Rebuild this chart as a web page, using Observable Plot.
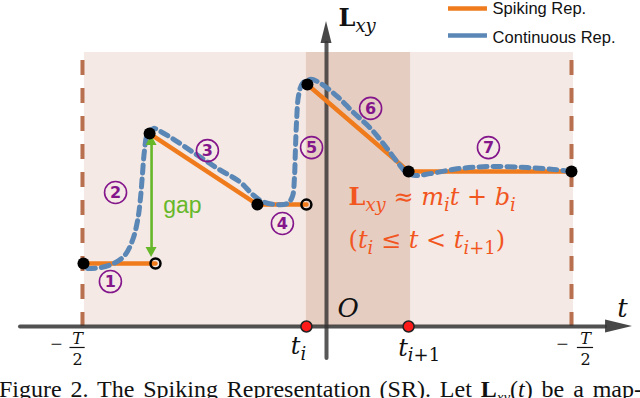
<!DOCTYPE html>
<html><head><meta charset="utf-8">
<script src="https://cdn.jsdelivr.net/npm/d3@7"></script>
<script src="https://cdn.jsdelivr.net/npm/@observablehq/plot@0.6"></script>
<style>
body{margin:0;background:#fff;width:640px;height:398px;overflow:hidden;position:relative;}
#chart svg{display:block;}
#cap{position:absolute;left:-1px;top:377px;width:643px;font-family:"Liberation Serif",serif;font-size:24px;line-height:24px;text-align:justify;text-align-last:justify;color:#111;white-space:nowrap;}
#cap .sub{font-size:15px;font-style:italic;position:relative;top:5px;}
</style></head>
<body>
<div id="chart"></div>
<div id="cap">Figure 2. The Spiking Representation (SR). Let <b>L</b><span class="sub">xy</span>(<i>t</i>) be a map-</div>
<script>
// ---------- data (t: time units with T/2 = 10, L: value units) ----------
const boundsT = [-9.96, 10.0];            // -T/2 and the right boundary
const regionT = [-9.88, 10.08];
const regionTop = 10;
const bandT = [-0.82, 3.43];              // t_i .. t_{i+1}

// Spiking representation (piecewise linear segments)
const spikeSeg = [1, 1, 3, 3, 4, 4, 6, 6, 7, 7];
const spikeT   = [-9.92, -6.98, -7.22, -2.82, -2.82, -0.82, -0.78, 3.35, 3.35, 10.0];
const spikeL   = [2.30, 2.30, 7.04, 4.45, 4.45, 4.45, 8.83, 5.66, 5.66, 5.66];

// spike knots (filled) and open ends
const knotT = [-9.92, -7.22, -2.82, -0.78, 3.35, 10.0];
const knotL = [2.30, 7.04, 4.45, 8.83, 5.66, 5.66];
const openT = [-6.98, -0.82];
const openL = [2.30, 4.45];

// Continuous representation
const contT = [-9.76,-9.22,-8.69,-8.24,-7.92,-7.71,-7.59,-7.51,-7.43,-7.31,-7.06,-6.78,-6.24,-5.43,-4.45,-3.51,-3.02,-2.61,-2.08,-1.59,-1.39,-1.31,-1.27,-1.22,-1.14,-0.98,-0.65,-0.24,0.45,1.10,1.80,2.41,2.90,3.27,3.63,4.24,5.47,6.82,8.20,9.27,9.96];
const contL = [2.12,2.15,2.30,2.59,3.14,3.87,4.71,5.58,6.42,7.01,7.23,7.12,6.83,6.35,5.77,5.26,4.82,4.56,4.45,4.49,4.75,5.40,6.42,7.52,8.43,8.87,9.02,8.87,8.39,7.81,7.23,6.57,5.99,5.62,5.51,5.58,5.77,5.84,5.80,5.73,5.66];

// spike times on the t axis
const spikeTimes = [-0.82, 3.35];

// segment numbers
const segNums = ["1", "2", "3", "4", "5", "6", "7"];
const segNumT = [-8.82, -8.61, -4.86, -1.80, -0.61, 1.80, 6.61];
const segNumL = [1.64, 4.89, 6.42, 3.76, 6.53, 7.96, 6.53];

// gap arrow
const gapT = -7.14, gapTop = 6.97, gapBottom = 2.52;

// legend
const legendLabels = ["Spiking Rep.", "Continuous Rep."];

// ---------- colours / layout ----------
const ORANGE = "#ef7b1c", BLUE = "#5a87b5", BROWN = "#b8704f", AXIS = "#333333";
const PURPLE = "#84168c", GREEN = "#66b82a", RED_TXT = "#f2561f";
const SERIF = "DejaVu Serif", SANS = "Liberation Sans";

const spike = spikeT.map((t, i) => ({t, L: spikeL[i], seg: spikeSeg[i]}));
const cont = contT.map((t, i) => ({t, L: contL[i]}));
const knots = knotT.map((t, i) => ({t, L: knotL[i]}));
const opens = openT.map((t, i) => ({t, L: openL[i]}));
const nums = segNums.map((s, i) => ({s, t: segNumT[i], L: segNumL[i]}));

const hAxis = {x1: -12.49, x2: 11.39};
const hHead = [{t: 11.39, lo: -0.237, hi: 0.237}, {t: 12.49, lo: 0, hi: 0}];
const vAxis = {y1: -1.17, y2: 10.33};
const vHead = [{L: 10.33, lo: -0.224, hi: 0.224}, {L: 11.13, lo: 0, hi: 0}];
const gHeadTop = [{L: gapTop, lo: gapT, hi: gapT}, {L: gapTop - 0.36, lo: gapT - 0.224, hi: gapT + 0.224}];
const gHeadBot = [{L: gapBottom, lo: gapT, hi: gapT}, {L: gapBottom + 0.36, lo: gapT - 0.224, hi: gapT + 0.224}];

const legend = [
  {label: legendLabels[0], L: 11.61, Lt: 11.39, dash: null, color: ORANGE},
  {label: legendLabels[1], L: 10.62, Lt: 10.36, dash: "10,6", color: BLUE}
];

// math labels: "$" + pieces "code:text" separated by "|"
const mathLabels = [
  {s: "$B:L|si:xy", t: 0.49, L: 10.95, size: 24, anchor: "start", fill: "#111"},
  {s: "$i:t", t: 12.08, L: 0.33, size: 26, anchor: "middle", fill: "#111"},
  {s: "$i:O", t: 0.88, L: 0.33, size: 26, anchor: "middle", fill: "#111"},
  {s: "$i:t|si:i", t: -1.14, L: -1.02, size: 24, anchor: "middle", fill: "#111"},
  {s: "$i:t|si:i|sn:+1", t: 3.78, L: -1.06, size: 24, anchor: "middle", fill: "#111"},
  {s: "$B:L|si:xy|n: ≈ |i:m|si:i|i:t|n: + |i:b|si:i", t: 0.90, L: 4.42, size: 24, anchor: "start", fill: RED_TXT},
  {s: "$n:(|i:t|si:i|n: ≤ |i:t|n: < |i:t|si:i|sn:+1|n:)", t: 0.90, L: 2.85, size: 24, anchor: "start", fill: RED_TXT}
];
// -T/2 fraction labels
const fracs = [
  {minusT: -11.02, fracT: -10.16, w: 0.31},
  {minusT: 9.63, fracT: 10.57, w: 0.33}
];

const textMark = (d, o) => Plot.text(d, {x: "t", y: "L", text: "s", textAnchor: o.anchor, lineAnchor: "bottom", fontSize: o.size, fill: o.fill, fontFamily: SERIF});

const plot = Plot.plot({
  width: 640, height: 372, margin: 0,
  x: {domain: [-13.306, 12.816], axis: null},
  y: {domain: [-1.679, 11.898], axis: null},
  marks: [
    Plot.rect([0], {x1: regionT[0], x2: regionT[1], y1: 0, y2: regionTop, fill: "#f4e9e4"}),
    Plot.rect([0], {x1: bandT[0], x2: bandT[1], y1: 0, y2: regionTop, fill: "#e6cdc2"}),
    Plot.ruleX(boundsT, {x: d => d, y1: regionTop, y2: 0, stroke: BROWN, strokeWidth: 4, strokeDasharray: "15,13", strokeDashoffset: 20}),
    // axes
    Plot.ruleY([0], {x1: hAxis.x1, x2: hAxis.x2, stroke: AXIS, strokeWidth: 4, strokeOpacity: 0.85, strokeLinecap: "round"}),
    Plot.areaY(hHead, {x: "t", y1: "lo", y2: "hi", fill: AXIS, fillOpacity: 0.9}),
    Plot.ruleX([0], {y1: vAxis.y1, y2: vAxis.y2, stroke: AXIS, strokeWidth: 4, strokeOpacity: 0.82, strokeLinecap: "round"}),
    Plot.areaX(vHead, {y: "L", x1: "lo", x2: "hi", fill: AXIS, fillOpacity: 0.9}),
    // curves
    Plot.line(spike, {x: "t", y: "L", z: "seg", stroke: ORANGE, strokeWidth: 4.5}),
    Plot.line(cont, {x: "t", y: "L", stroke: BLUE, strokeWidth: 5, strokeDasharray: "8,6", curve: "catmull-rom"}),
    // gap arrow
    Plot.ruleX([gapT], {y1: gapTop - 0.3, y2: gapBottom + 0.3, stroke: GREEN, strokeWidth: 2.6}),
    Plot.areaX(gHeadTop, {y: "L", x1: "lo", x2: "hi", fill: GREEN}),
    Plot.areaX(gHeadBot, {y: "L", x1: "lo", x2: "hi", fill: GREEN}),
    Plot.text(["gap"], {x: -5.88, y: 4.16, text: d => d, lineAnchor: "bottom", fontSize: 23, fill: GREEN, fontFamily: SANS}),
    // knots
    Plot.dot(knots, {x: "t", y: "L", r: 6, fill: "#000"}),
    Plot.dot(opens, {x: "t", y: "L", r: 5, fill: "none", stroke: "#000", strokeWidth: 2.5}),
    Plot.dot(spikeTimes, {x: d => d, y: 0, r: 5.5, fill: "#ff1a1a", stroke: "#222", strokeWidth: 1.5}),
    // segment numbers
    Plot.dot(nums, {x: "t", y: "L", r: 11, fill: "none", stroke: PURPLE, strokeWidth: 1.6}),
    Plot.text(nums, {x: "t", y: "L", text: "s", fontSize: 16, fontWeight: "bold", fill: PURPLE, fontFamily: "DejaVu Sans"}),
    // math labels
    ...mathLabels.map(d => textMark([d], d)),
    // -T/2 labels
    Plot.text(fracs, {x: "minusT", y: -0.64, text: () => "−", fontSize: 21, fill: "#111", fontFamily: "Liberation Serif"}),
    Plot.text(fracs, {x: "fracT", y: -0.657, text: () => "T", fontSize: 16, fontStyle: "italic", lineAnchor: "bottom", fill: "#111", fontFamily: SERIF}),
    Plot.ruleY(fracs, {y: -0.766, x1: d => d.fracT - d.w, x2: d => d.fracT + d.w, stroke: "#111", strokeWidth: 1.2}),
    Plot.text(fracs, {x: "fracT", y: -1.423, text: () => "2", fontSize: 16, lineAnchor: "bottom", fill: "#111", fontFamily: SERIF}),
    // legend
    Plot.ruleY(legend, {y: "L", x1: 4.98, x2: 6.57, stroke: "color", strokeWidth: d => 4.5, strokeDasharray: d => d.dash}),
    Plot.text(legend, {x: 6.78, y: "Lt", text: "label", textAnchor: "start", lineAnchor: "bottom", fontSize: 16.5, fill: "#111", fontFamily: SANS})
  ]
});

document.getElementById("chart").appendChild(plot);

// convert math markup to tspans
function renderMath(root) {
  root.querySelectorAll("text").forEach(el => {
    const s = el.textContent;
    if (!s.startsWith("$")) return;
    const fs = parseFloat(getComputedStyle(el).fontSize);
    el.textContent = "";
    el.setAttribute("style", "white-space:pre");
    let shift = 0;
    s.slice(1).split("|").forEach(part => {
      const k = part.indexOf(":");
      const code = part.slice(0, k), txt = part.slice(k + 1);
      const ts = document.createElementNS("http://www.w3.org/2000/svg", "tspan");
      const sub = code[0] === "s";
      const c = sub ? code.slice(1) : code;
      const want = sub ? 0.22 * fs : 0;
      if (want !== shift) { ts.setAttribute("dy", want - shift); shift = want; }
      ts.setAttribute("font-size", sub ? 0.75 * fs : fs);
      ts.setAttribute("font-style", c === "i" ? "italic" : "normal");
      ts.setAttribute("font-weight", c === "B" ? "bold" : "normal");
      ts.textContent = txt;
      el.appendChild(ts);
    });
  });
}
renderMath(plot);
</script>
</body></html>
